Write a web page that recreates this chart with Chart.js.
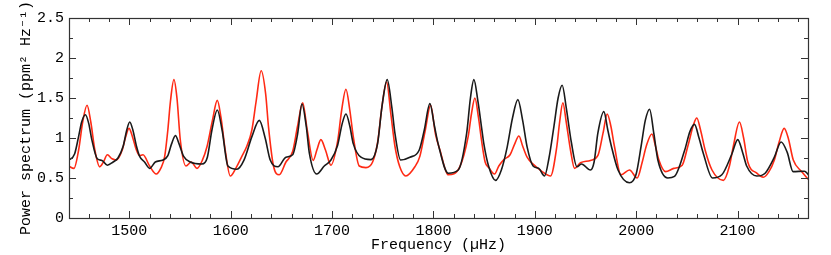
<!DOCTYPE html>
<html>
<head>
<meta charset="utf-8">
<script src="https://cdn.jsdelivr.net/npm/chart.js@4.4.1/dist/chart.umd.min.js"></script>
<style>
    html, body { margin: 0; padding: 0; background: #fff; }
    #wrap { width: 831px; height: 255px; }
</style>
</head>
<body>
<div id="wrap"><canvas id="spectrumChart" width="831" height="255"></canvas></div>
<script>
// values
const freqBlack = [1440, 1446, 1450, 1453, 1456.6, 1460, 1463, 1468.4, 1473, 1478.3, 1484, 1488.8, 1494, 1497.5, 1500.4, 1503.5, 1507, 1510.2, 1515, 1520.1,
    1525.6, 1533.2, 1538, 1541.5, 1545.5, 1549, 1553.6, 1560.1, 1571.7, 1577, 1581.5, 1586.8, 1591.5, 1597.3, 1606.2, 1613, 1621, 1628.2, 1634, 1639,
    1646.6, 1654.5, 1661.1, 1666, 1670.3, 1674.5, 1677.6, 1684.8, 1692.3, 1698.9, 1705.5, 1710, 1713.7, 1717.5, 1720.9, 1728.5, 1738.3, 1744.9, 1749.2, 1754.4,
    1759, 1762, 1767.6, 1776.8, 1786, 1791, 1796.5, 1801, 1804.6, 1814.6, 1824.5, 1832.8, 1836.5, 1839.9, 1844, 1847.4, 1849.7, 1854.6, 1861.3, 1867,
    1872.8, 1878, 1883.3, 1888, 1892.4, 1898.3, 1903.9, 1909.6, 1914, 1918.8, 1923, 1927, 1931, 1936, 1941.6, 1946, 1954.9, 1958.5, 1962.2, 1968.1,
    1972, 1975.3, 1982.1, 1993.4, 2000, 2004.9, 2009, 2013.2, 2017.5, 2021.4, 2031.2, 2037.8, 2047.9, 2053, 2057.5, 2062, 2066.4, 2075.3, 2084.5, 2094.4,
    2100.2, 2105, 2109, 2119, 2127.2, 2136.3, 2143, 2149, 2154.8, 2166, 2170]
const powerBlack = [0.72, 0.80, 1.02, 1.20, 1.29, 1.18, 0.98, 0.74, 0.72, 0.66, 0.70, 0.75, 0.90, 1.10, 1.20, 1.10, 0.90, 0.77, 0.70, 0.62,
    0.70, 0.725, 0.78, 0.92, 1.03, 0.93, 0.77, 0.70, 0.675, 0.76, 1.10, 1.35, 1.10, 0.65, 0.61, 0.72, 1.02, 1.22, 1.00, 0.725,
    0.64, 0.76, 0.79, 1.05, 1.425, 1.15, 0.81, 0.55, 0.65, 0.725, 0.91, 1.18, 1.30, 1.15, 0.93, 0.76, 0.73, 0.93, 1.39, 1.73,
    1.38, 1.06, 0.725, 0.76, 0.85, 1.10, 1.43, 1.15, 0.93, 0.56, 0.60, 1.06, 1.50, 1.73, 1.45, 1.14, 0.93, 0.64, 0.47, 0.60,
    0.89, 1.25, 1.48, 1.22, 0.89, 0.65, 0.62, 0.525, 0.75, 1.14, 1.50, 1.66, 1.38, 0.95, 0.64, 0.675, 0.60, 0.70, 1.06, 1.33,
    1.10, 0.91, 0.60, 0.44, 0.55, 0.90, 1.22, 1.36, 1.05, 0.725, 0.50, 0.52, 0.85, 1.08, 1.17, 1.00, 0.80, 0.50, 0.54, 0.80,
    0.98, 0.82, 0.65, 0.525, 0.56, 0.76, 0.95, 0.82, 0.58, 0.585, 0.54]

const freqRed = [1440, 1445.4, 1450, 1454, 1458.3, 1462, 1466, 1470.8, 1474.5, 1478.3, 1483, 1487.2, 1493, 1496.5, 1499.7, 1503, 1507, 1510, 1513.5, 1520,
    1526.6, 1531, 1534.9, 1538, 1540.5, 1544, 1547, 1550.3, 1555.9, 1561.1, 1566.7, 1572, 1576.6, 1582, 1586.8, 1590.5, 1594.6, 1599.6, 1605, 1611,
    1616, 1620.9, 1625, 1630.1, 1634.5, 1637.3, 1642.4, 1647.9, 1654.5, 1661.1, 1666, 1671, 1675.5, 1681.4, 1685, 1689, 1693.5, 1698.9, 1705.5, 1709.5,
    1713.7, 1717.5, 1720.9, 1726.8, 1733.4, 1740, 1745, 1749.2, 1753.8, 1758, 1762, 1766.8, 1772.8, 1781.7, 1786.6, 1792, 1797.2, 1802, 1806.4, 1814.6,
    1826, 1834.3, 1837.5, 1840.9, 1844.5, 1847.4, 1851, 1854.6, 1860.3, 1864.5, 1869.5, 1875.6, 1880, 1884.3, 1888, 1892.4, 1898.6, 1906.3, 1915.5, 1921.8,
    1924.5, 1927.7, 1931, 1935.2, 1939.2, 1945.1, 1954.9, 1962.5, 1967.3, 1971.4, 1975, 1978.5, 1985, 1993.4, 2001, 2006, 2010, 2015.5, 2019, 2022.4,
    2029, 2037.2, 2045.4, 2051, 2056.9, 2059.8, 2063.5, 2068, 2074.8, 2086, 2092, 2095.9, 2101.9, 2106, 2110.1, 2119, 2125.4, 2131, 2136.3, 2141,
    2146, 2150, 2155, 2163.2, 2170]
const powerRed = [0.65, 0.62, 0.85, 1.20, 1.41, 1.20, 0.85, 0.64, 0.70, 0.79, 0.74, 0.725, 0.85, 1.02, 1.12, 1.02, 0.85, 0.78, 0.79, 0.65,
    0.55, 0.62, 0.77, 1.10, 1.45, 1.73, 1.50, 0.975, 0.65, 0.70, 0.62, 0.72, 0.89, 1.22, 1.47, 1.25, 0.85, 0.525, 0.62, 0.77,
    0.90, 1.10, 1.45, 1.84, 1.55, 1.14, 0.64, 0.54, 0.70, 0.83, 1.15, 1.44, 1.10, 0.72, 0.85, 0.98, 0.85, 0.66, 0.96, 1.35,
    1.61, 1.35, 1.02, 0.65, 0.63, 0.70, 0.95, 1.39, 1.70, 1.30, 0.90, 0.64, 0.525, 0.64, 0.77, 1.10, 1.41, 1.05, 0.85, 0.54,
    0.64, 1.02, 1.30, 1.50, 1.25, 0.975, 0.70, 0.63, 0.55, 0.65, 0.73, 0.79, 0.92, 1.025, 0.90, 0.76, 0.67, 0.59, 0.525, 0.90,
    1.20, 1.44, 1.20, 0.85, 0.62, 0.69, 0.72, 0.79, 1.06, 1.30, 1.15, 0.90, 0.54, 0.60, 0.50, 0.70, 0.90, 1.05, 0.90, 0.725,
    0.58, 0.62, 0.66, 0.90, 1.18, 1.25, 1.10, 0.85, 0.60, 0.47, 0.65, 0.90, 1.20, 1.00, 0.70, 0.56, 0.51, 0.58, 0.725, 0.95,
    1.12, 1.00, 0.725, 0.58, 0.48]

const xTicks = [1500, 1600, 1700, 1800, 1900, 2000, 2100]
const yTicks = [0, 0.5, 1, 1.5, 2, 2.5]
const xRange = [1440.5, 2169.5]
const yRange = [0, 2.5]

const monoFont = "'Liberation Mono', 'Courier New', monospace"

function toPoints(xs, ys) {
    return xs.map((x, i) => ({ x: x, y: ys[i] }))
}

// frame with inward ticks on all four sides (major + minor)
const frameTicks = {
    id: 'frameTicks',
    afterDraw(chart) {
        const ctx = chart.ctx
        const a = chart.chartArea
        const xs = chart.scales.x
        const ys = chart.scales.y
        ctx.save()
        ctx.strokeStyle = '#333'
        ctx.lineWidth = 1
        ctx.beginPath()
        // minor x ticks every 20
        for (let v = Math.ceil(xRange[0] / 20) * 20; v <= xRange[1]; v += 20) {
            const px = Math.round(xs.getPixelForValue(v)) + 0.5
            const len = (v % 100 === 0) ? 7 : 4
            ctx.moveTo(px, a.bottom); ctx.lineTo(px, a.bottom - len)
            ctx.moveTo(px, a.top); ctx.lineTo(px, a.top + len)
        }
        // minor y ticks every 0.25
        for (let v = 0; v <= yRange[1] + 1e-9; v += 0.25) {
            const py = Math.round(ys.getPixelForValue(v)) + 0.5
            const major = Math.abs(v * 2 - Math.round(v * 2)) < 1e-6
            const len = major ? 7 : 4
            ctx.moveTo(a.left, py); ctx.lineTo(a.left + len, py)
            ctx.moveTo(a.right, py); ctx.lineTo(a.right - len, py)
        }
        ctx.stroke()
        ctx.lineWidth = 1.2
        ctx.strokeRect(Math.round(a.left) + 0.5, Math.round(a.top) + 0.5, Math.round(a.right - a.left), Math.round(a.bottom - a.top))
        ctx.restore()
    }
}

const spectrumConfig = {
    type: 'line',
    data: {
        datasets: [
            {
                label: 'black',
                data: toPoints(freqBlack, powerBlack),
                borderColor: '#1a1a1a',
                borderWidth: 1.6,
                pointRadius: 0,
                cubicInterpolationMode: 'monotone',
                fill: false
            },
            {
                label: 'red',
                data: toPoints(freqRed, powerRed),
                borderColor: '#ff2a14',
                borderWidth: 1.6,
                pointRadius: 0,
                cubicInterpolationMode: 'monotone',
                fill: false
            }
        ]
    },
    options: {
        responsive: false,
        animation: false,
        events: [],
        layout: { padding: { top: 18, right: 23, bottom: 0, left: 0 } },
        plugins: {
            legend: { display: false },
            title: { display: false },
            tooltip: { enabled: false }
        },
        scales: {
            x: {
                type: 'linear',
                min: xRange[0],
                max: xRange[1],
                border: { display: false },
                grid: { display: false, drawTicks: false },
                afterBuildTicks: (scale) => { scale.ticks = xTicks.map(v => ({ value: v })) },
                afterFit: (scale) => { scale.height = 37 },
                ticks: {
                    color: '#000',
                    padding: 4,
                    maxRotation: 0,
                    font: { family: monoFont, size: 15 },
                    callback: (v) => String(v)
                },
                title: {
                    display: true,
                    text: 'Frequency (\u00b5Hz)',
                    color: '#000',
                    font: { family: monoFont, size: 15 },
                    padding: { top: 0, bottom: 1 }
                }
            },
            y: {
                type: 'linear',
                min: yRange[0],
                max: yRange[1],
                border: { display: false },
                grid: { display: false, drawTicks: false },
                afterBuildTicks: (scale) => { scale.ticks = yTicks.map(v => ({ value: v })) },
                afterFit: (scale) => { scale.width = 69 },
                ticks: {
                    color: '#000',
                    padding: 5,
                    font: { family: monoFont, size: 15 },
                    callback: (v) => String(v)
                },
                title: {
                    display: true,
                    text: 'Power spectrum (ppm\u00b2 Hz\u207b\u00b9)',
                    color: '#000',
                    font: { family: monoFont, size: 15 },
                    padding: { top: 17, bottom: 0 }
                }
            }
        }
    },
    plugins: [frameTicks]
}

const spectrumChart = new Chart(document.getElementById('spectrumChart'), spectrumConfig)
</script>
</body>
</html>
